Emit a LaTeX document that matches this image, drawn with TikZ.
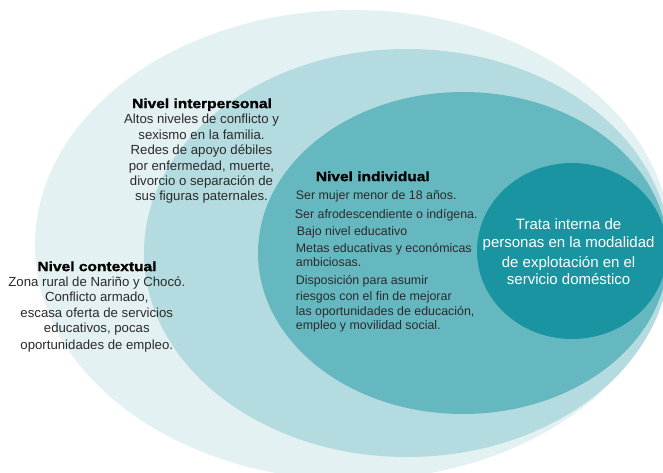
\documentclass[tikz,border=0pt]{standalone}
\usepackage{fontspec}
\setmainfont{Liberation Sans}
\newfontfamily\headfont[FakeStretch=1.15,FakeBold=1.3]{Liberation Sans}
\definecolor{ringA}{HTML}{E3F1F2}
\definecolor{ringB}{HTML}{B4DBDF}
\definecolor{ringC}{HTML}{66B8C0}
\definecolor{ringD}{HTML}{1B94A2}
\definecolor{txt}{HTML}{2A2A2A}
\tikzset{
  head/.style={font=\headfont\bfseries\fontsize{13.5bp}{15bp}\selectfont, text=black, inner sep=0pt, anchor=mid, yshift=-2.5bp},
  bodyc/.style={font=\fontsize{13.2bp}{15.4bp}\selectfont, text=txt, inner sep=0pt, anchor=mid, yshift=-2.5bp},
  bodyl/.style={font=\fontsize{12.4bp}{15bp}\selectfont, text=txt, inner sep=0pt, anchor=mid west, yshift=-2.5bp},
  core/.style={font=\fontsize{15bp}{18bp}\selectfont, text=white, inner sep=0pt, anchor=mid, yshift=-3bp}
}
\begin{document}
\begin{tikzpicture}[x=1bp,y=-1bp]
\useasboundingbox (0,0) rectangle (663,473);
\begin{scope}
\clip (0,0) rectangle (663,473);
\fill[ringA] (353,245) ellipse [x radius=318, y radius=235];
\fill[ringB] (407,253) ellipse [x radius=263, y radius=204];
\fill[ringC] (463,253) ellipse [x radius=205, y radius=161];
\fill[ringD] (572,251) ellipse [x radius=95, y radius=88];
\end{scope}
% interpersonal
\node[head]  (ih) at (202,103) {Nivel interpersonal};
\node[bodyc] (i1) at (201.5,118.3) {Altos niveles de conflicto y};
\node[bodyc] (i2) at (201.5,134) {sexismo en la familia.};
\node[bodyc] (i3) at (201.5,149.3) {Redes de apoyo débiles};
\node[bodyc] (i4) at (201.5,165) {por enfermedad, muerte,};
\node[bodyc] (i5) at (201.5,180.7) {divorcio o separación de};
\node[bodyc] (i6) at (201.5,195.7) {sus figuras paternales.};
% contextual
\node[head]  (ch) at (97,266) {Nivel contextual};
\node[bodyc] (c1) at (96.8,281.7) {Zona rural de Nariño y Chocó.};
\node[bodyc] (c2) at (96.8,296.7) {Conflicto armado,};
\node[bodyc] (c3) at (96.8,312.3) {escasa oferta de servicios};
\node[bodyc] (c4) at (96.8,327.7) {educativos, pocas};
\node[bodyc] (c5) at (96.8,344) {oportunidades de empleo.};
% individual
\node[head]  (dh) at (372.8,176) {Nivel individual};
\node[bodyl] (d1) at (295.7,194.3) {Ser mujer menor de 18 años.};
\node[bodyl] (d2) at (294.7,213.3) {Ser afrodescendiente o indígena.};
\node[bodyl] (d3) at (296.7,230) {Bajo nivel educativo};
\node[bodyl] (d4) at (295.7,247.3) {Metas educativas y económicas};
\node[bodyl] (d5) at (295.7,261.7) {ambiciosas.};
\node[bodyl] (d6) at (295.7,279.3) {Disposición para asumir};
\node[bodyl] (d7) at (295.7,295) {riesgos con el fin de mejorar};
\node[bodyl] (d8) at (295.7,310.7) {las oportunidades de educación,};
\node[bodyl] (d9) at (295.7,324.3) {empleo y movilidad social.};
% core
\node[core] (t1) at (568.6,224) {Trata interna de};
\node[core] (t2) at (568.6,242.3) {personas en la modalidad};
\node[core] (t3) at (568.6,261.7) {de explotación en el};
\node[core] (t4) at (568.6,279.3) {servicio doméstico};
\end{tikzpicture}
\end{document}
